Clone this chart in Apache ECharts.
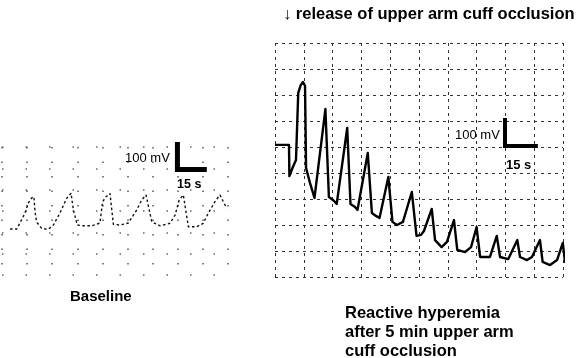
<!DOCTYPE html>
<html>
<head>
<meta charset="utf-8">
<script src="https://cdn.jsdelivr.net/npm/echarts@6/dist/echarts.min.js"></script>
<style>html,body{margin:0;padding:0;background:#fff}#c{width:578px;height:358px}</style>
</head>
<body>
<div id="c"></div>
<script>
// Baseline panel: time (s) and amplitude (mV)
var baseTime = [4.5,8.2,10.0,12.8,14.7,16.6,17.8,18.4,19.3,22.1,25.8,28.6,32.3,36.1,38.5,39.8,42.0,45.3,50.0,54.6,56.1,58.0,60.2,62.1,65.8,70.4,75.1,77.9,80.3,83.5,88.1,93.7,96.5,98.8,101.1,103.9,108.5,112.2,115.0,118.7,121.5,123.4,125.3];
var baseMv   = [183,183,207,247,287,307,312,252,211,186,182,199,247,306,326,259,199,196,196,207,292,312,325,202,199,207,259,299,319,212,196,206,239,299,319,192,192,206,246,292,319,292,266];

// Reactive hyperemia panel
var hypTime = [0,6.8,7.0,8.7,10.2,11.3,12.5,13.6,14.6,15.1,17.0,19.2,24.5,26.2,28.2,30.0,35.1,36.7,38.9,40.1,45.1,47.1,49.1,50.8,55.1,57.1,59.3,62.2,66.5,68.8,71.0,72.4,76.2,77.8,81.0,83.6,87.0,88.6,92.4,95.3,98.0,99.7,104.5,107.8,109.4,113.4,117.8,119.1,122.5,124.9,128.8,130.1,133.7,137.1,139.9,141.0];
var hypMv   = [508,508,388,423,450,708,738,750,735,419,362,304,646,308,296,281,573,281,269,258,477,246,235,227,385,212,200,212,327,158,162,177,262,142,115,135,219,104,96,115,192,77,77,158,77,69,142,77,65,77,142,58,46,65,131,54];

// Scale bars: 100 mV and 15 s
var baseBarCorner = [97.8, 420];
var hypBarCorner = [111.8, 504];
var barTime = 15, barMv = 100;

var titleText = '\u2193 release of upper arm cuff occlusion';
var baseLabel = 'Baseline';
var hypLabel = 'Reactive hyperemia\nafter 5 min upper arm\ncuff occlusion';

function zip(a,b){return a.map(function(v,i){return [v,b[i]];});}
function bar(c){return [[c[0],c[1]+barMv],[c[0],c[1]],[c[0]+barTime,c[1]]];}

var FONT = '"Liberation Sans", Arial, sans-serif';
function hiddenAxis(g,min,max,interval,split){
  return {type:'value',gridIndex:g,min:min,max:max,interval:interval,
    axisLine:{show:false},axisTick:{show:false},axisLabel:{show:false},
    splitLine:{show:true,lineStyle:split}};
}
var baseSplitX = {color:'#555',width:1.5,type:[1.5,13]};
var baseSplitY = {color:'#666',width:1.5,type:[1.5,22]};
var hypSplit = {color:'#333',width:1,type:[3,4]};

var chart = echarts.init(document.getElementById('c'),null,{renderer:'canvas'});
chart.setOption({
  backgroundColor:'#fff',
  animation:false,
  grid:[
    {left:2,top:147,width:226,height:128},
    {left:275,top:43,width:288,height:234}
  ],
  xAxis:[hiddenAxis(0,0,126,14,baseSplitX),hiddenAxis(1,0,140,14,hypSplit)],
  yAxis:[hiddenAxis(0,0,510,85,baseSplitY),hiddenAxis(1,0,900,100,hypSplit)],
  series:[
    {type:'line',xAxisIndex:0,yAxisIndex:0,data:zip(baseTime,baseMv),showSymbol:false,clip:false,
      lineStyle:{color:'#111',width:1.4,type:[2.5,2.5]}},
    {type:'line',xAxisIndex:1,yAxisIndex:1,data:zip(hypTime,hypMv),showSymbol:false,clip:false,
      lineStyle:{color:'#000',width:2.4,join:'round'}},
    {type:'line',xAxisIndex:0,yAxisIndex:0,data:bar(baseBarCorner),showSymbol:false,clip:false,
      lineStyle:{color:'#000',width:5,cap:'square',join:'miter'}},
    {type:'line',xAxisIndex:1,yAxisIndex:1,data:bar(hypBarCorner),showSymbol:false,clip:false,
      lineStyle:{color:'#000',width:4,cap:'square',join:'miter'}}
  ],
  graphic:[
    {type:'text',left:283,top:6,style:{text:titleText,font:'bold 16.5px '+FONT,fill:'#000'}},
    {type:'text',left:125,top:152,style:{text:'100 mV',font:'13px '+FONT,fill:'#000'}},
    {type:'text',left:177,top:178,style:{text:'15 s',font:'bold 12.5px '+FONT,fill:'#000'}},
    {type:'text',left:455,top:129,style:{text:'100 mV',font:'13px '+FONT,fill:'#000'}},
    {type:'text',left:506,top:159,style:{text:'15 s',font:'bold 13px '+FONT,fill:'#000'}},
    {type:'text',left:70,top:289,style:{text:baseLabel,font:'bold 15px '+FONT,fill:'#000'}},
    {type:'text',left:345,top:304,style:{text:hypLabel,font:'bold 16.5px '+FONT,fill:'#000',lineHeight:18.8}}
  ]
});
</script>
</body>
</html>
